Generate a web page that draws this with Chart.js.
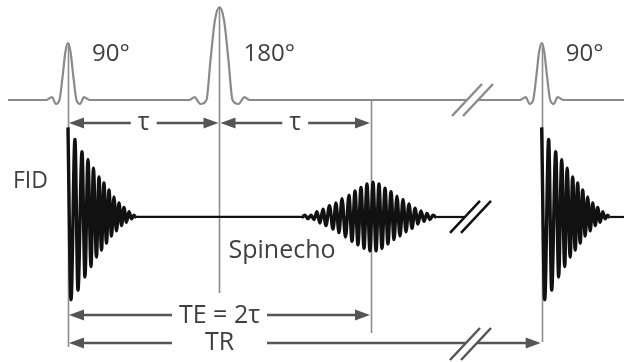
<!DOCTYPE html>
<html>
<head>
<meta charset="utf-8">
<script src="https://cdn.jsdelivr.net/npm/chart.js@4.4.1/dist/chart.umd.min.js"></script>
<style>
  html, body { margin: 0; padding: 0; background: #fff; }
  #wrap { width: 624px; height: 362px; }
</style>
</head>
<body>
<div id="wrap"><canvas id="seq"></canvas></div>
<script>
// timing in ms; the time axis is broken before TR
const tau = 15;
const te = 2 * tau;
const tr = 46.9;
const pulseTimes = [0, tau, tr];
const pulseNames = ['90°', '180°', '90°'];

// RF pulse shapes: offset from pulse centre (ms) and amplitude (90° peak = 1)
const p90Offsets = [-2.18, -1.58, -1.19, -0.84, -0.54, -0.25, 0, 0.25, 0.54, 0.84, 1.19, 1.58, 2.18];
const p90Amps = [0, 0.05, -0.07, 0, 0.40, 0.85, 1.0, 0.85, 0.40, 0, -0.07, 0.05, 0];
const p180Offsets = [-2.97, -2.48, -1.88, -1.29, -0.89, -0.45, 0, 0.45, 0.89, 1.29, 1.88, 2.48, 2.97];
const p180Amps = [0, 0.05, -0.07, 0, 0.70, 1.40, 1.63, 1.40, 0.70, 0, -0.07, 0.05, 0];

// FID: extremes of the decaying signal after a 90° pulse
const fidTimes = [0, 0.30, 0.69, 0.99, 1.39, 1.68, 1.98, 2.28, 2.52, 2.82, 3.07, 3.32, 3.56,
  3.81, 4.06, 4.31, 4.55, 4.80, 5.05, 5.30, 5.54, 5.79, 6.04, 6.29, 6.53, 6.73];
const fidAmps = [1.03, -0.95, 0.89, -0.84, 0.75, -0.69, 0.66, -0.57, 0.56, -0.46, 0.46, -0.38, 0.39,
  -0.30, 0.31, -0.22, 0.23, -0.16, 0.16, -0.10, 0.11, -0.06, 0.06, -0.02, 0.02, 0];

// spin echo extremes around TE
const echoTimes = [23.17, 23.47, 23.76, 24.06, 24.36, 24.65, 24.95, 25.25, 25.54, 25.89, 26.24, 26.53,
  26.83, 27.13, 27.48, 27.82, 28.12, 28.42, 28.71, 29.01, 29.31, 29.60, 29.90, 30.20, 30.50, 30.79,
  31.09, 31.39, 31.68, 31.98, 32.28, 32.57, 32.87, 33.17, 33.47, 33.76, 34.06, 34.36, 34.65, 34.95,
  35.25, 35.54, 35.84, 36.14, 36.44];
const echoAmps = [0, 0.02, -0.02, 0.02, -0.03, 0.06, -0.07, 0.09, -0.10, 0.13, -0.14, 0.16, -0.18,
  0.21, -0.23, 0.25, -0.28, 0.30, -0.32, 0.34, -0.36, 0.38, -0.39, 0.40, -0.39, 0.38, -0.36, 0.33,
  -0.31, 0.29, -0.26, 0.24, -0.22, 0.20, -0.17, 0.15, -0.13, 0.10, -0.08, 0.07, -0.05, 0.04, -0.03,
  0.02, 0];

const tStart = -5.94;
const tEnd = 55.05;
const tBreak = 39.3;

// build the line data
const rfData = [{x: tStart, y: 0}];
pulseTimes.forEach((t, i) => {
  const offs = i === 1 ? p180Offsets : p90Offsets;
  const amps = i === 1 ? p180Amps : p90Amps;
  offs.forEach((o, j) => rfData.push({x: t + o, y: amps[j]}));
});
rfData.push({x: tEnd, y: 0});

const sigData = fidTimes.map((t, i) => ({x: t, y: fidAmps[i]}))
  .concat(echoTimes.map((t, i) => ({x: t, y: echoAmps[i]})));
sigData.push({x: tBreak, y: 0});

const fid2Data = fidTimes.map((t, i) => ({x: tr + t, y: fidAmps[i]}));
fid2Data.push({x: tEnd, y: 0});

const textColor = '#3f3f3f';

// flat stretches of the receiver line are thinner than the oscillations
const sigSegment = {
  borderWidth: c => (c.p0.parsed.y === 0 && c.p1.parsed.y === 0 ? 2.2 : 3.4)
};

function head(ctx, x, y, dir) {
  ctx.beginPath();
  ctx.moveTo(x, y);
  ctx.lineTo(x - dir * 15, y - 5.5);
  ctx.lineTo(x - dir * 15, y + 5.5);
  ctx.closePath();
  ctx.fill();
}

function arrow(ctx, x1, x2, y, gapL, gapR) {
  ctx.beginPath();
  ctx.moveTo(x1 + 10, y);
  ctx.lineTo(gapL, y);
  ctx.moveTo(gapR, y);
  ctx.lineTo(x2 - 10, y);
  ctx.stroke();
  head(ctx, x1 + 1, y, -1);
  head(ctx, x2 - 1, y, 1);
}

function breakMark(ctx, cx, cy, color) {
  const a = [cx - 20, cy + 16], b = [cx + 10, cy - 16];
  ctx.fillStyle = '#fff';
  ctx.beginPath();
  ctx.moveTo(a[0], a[1]); ctx.lineTo(b[0], b[1]);
  ctx.lineTo(b[0] + 11, b[1]); ctx.lineTo(a[0] + 11, a[1]);
  ctx.closePath();
  ctx.fill();
  ctx.strokeStyle = color;
  ctx.lineWidth = 2.5;
  ctx.beginPath();
  ctx.moveTo(a[0], a[1]); ctx.lineTo(b[0], b[1]);
  ctx.moveTo(a[0] + 11, a[1]); ctx.lineTo(b[0] + 11, b[1]);
  ctx.stroke();
}

const sequencePlugin = {
  id: 'sequence',
  beforeDatasetsDraw(chart) {
    const {ctx, scales: {x, rf}} = chart;
    ctx.save();
    ctx.strokeStyle = '#8c8c8c';
    ctx.lineWidth = 1.6;
    const marks = [[0, 1, 347], [tau, 1.63, 293], [te, 0, 333], [tr, 1, 342]];
    marks.forEach(([t, top, bottom]) => {
      const px = Math.round(x.getPixelForValue(t)) + 0.5;
      ctx.beginPath();
      ctx.moveTo(px, rf.getPixelForValue(top));
      ctx.lineTo(px, bottom);
      ctx.stroke();
    });
    ctx.restore();
  },
  afterDatasetsDraw(chart) {
    const {ctx, scales: {x, rf, sig}} = chart;
    ctx.save();
    ctx.font = '24px "Open Sans"';
    ctx.fillStyle = textColor;
    ctx.textBaseline = 'alphabetic';
    ctx.textAlign = 'left';
    pulseTimes.forEach((t, i) => ctx.fillText(pulseNames[i], x.getPixelForValue(t) + 24, 61));
    ctx.font = '23px "Open Sans"';
    ctx.fillText('FID', x.getPixelForValue(0) - 55, 188);
    ctx.font = '25px "Open Sans"';
    ctx.fillText('Spinecho', x.getPixelForValue(tau) + 9, 258);

    const x0 = x.getPixelForValue(0), x1 = x.getPixelForValue(tau);
    const x2 = x.getPixelForValue(te), x3 = x.getPixelForValue(tr);
    ctx.strokeStyle = '#555';
    ctx.fillStyle = '#555';
    ctx.lineWidth = 2.5;
    ctx.textAlign = 'center';

    const row = (a, b, y, base, label, cx, half) => {
      arrow(ctx, a, b, y, cx - half, cx + half);
      ctx.fillStyle = textColor;
      ctx.fillText(label, cx, base);
      ctx.fillStyle = '#555';
    };
    const tw = s => ctx.measureText(s).width / 2 + 7;
    row(x0, x1, 123, 130, 'τ', (x0 + x1) / 2, tw('τ'));
    row(x1, x2, 123, 130, 'τ', (x1 + x2) / 2, tw('τ'));
    const teMid = (x0 + x2) / 2, teHalf = tw('TE = 2τ');
    row(x0, x2, 315, 323, 'TE = 2τ', teMid, teHalf);
    row(x0, x3, 343, 350, 'TR', teMid, teHalf);

    breakMark(ctx, 472, rf.getPixelForValue(0), '#8c8c8c');
    breakMark(ctx, 470, sig.getPixelForValue(0), '#111');
    breakMark(ctx, 470, 344, '#555');
    ctx.restore();
  }
};

new Chart(document.getElementById('seq'), {
  type: 'scatter',
  data: {
    datasets: [
      {label: 'RF', data: rfData, yAxisID: 'rf', borderColor: '#8a8a8a', borderWidth: 2.2},
      {label: 'Signal', data: sigData, yAxisID: 'sig', borderColor: '#111', borderWidth: 3.4, segment: sigSegment},
      {label: 'Signal 2', data: fid2Data, yAxisID: 'sig', borderColor: '#111', borderWidth: 3.4, segment: sigSegment}
    ]
  },
  options: {
    responsive: true,
    maintainAspectRatio: false,
    animation: false,
    layout: {padding: 0},
    elements: {
      point: {radius: 0, hoverRadius: 0},
      line: {cubicInterpolationMode: 'monotone', fill: false}
    },
    datasets: {scatter: {showLine: true, clip: false}},
    plugins: {legend: {display: false}, tooltip: {enabled: false}},
    scales: {
      x: {type: 'linear', axis: 'x', position: 'bottom', min: -6.73, max: 55.05, display: false},
      rf: {type: 'linear', axis: 'y', position: 'left', min: -4.596, max: 1.754, display: false},
      sig: {type: 'linear', axis: 'y', position: 'left', min: -1.667, max: 2.494, display: false}
    }
  },
  plugins: [sequencePlugin]
});
</script>
</body>
</html>
